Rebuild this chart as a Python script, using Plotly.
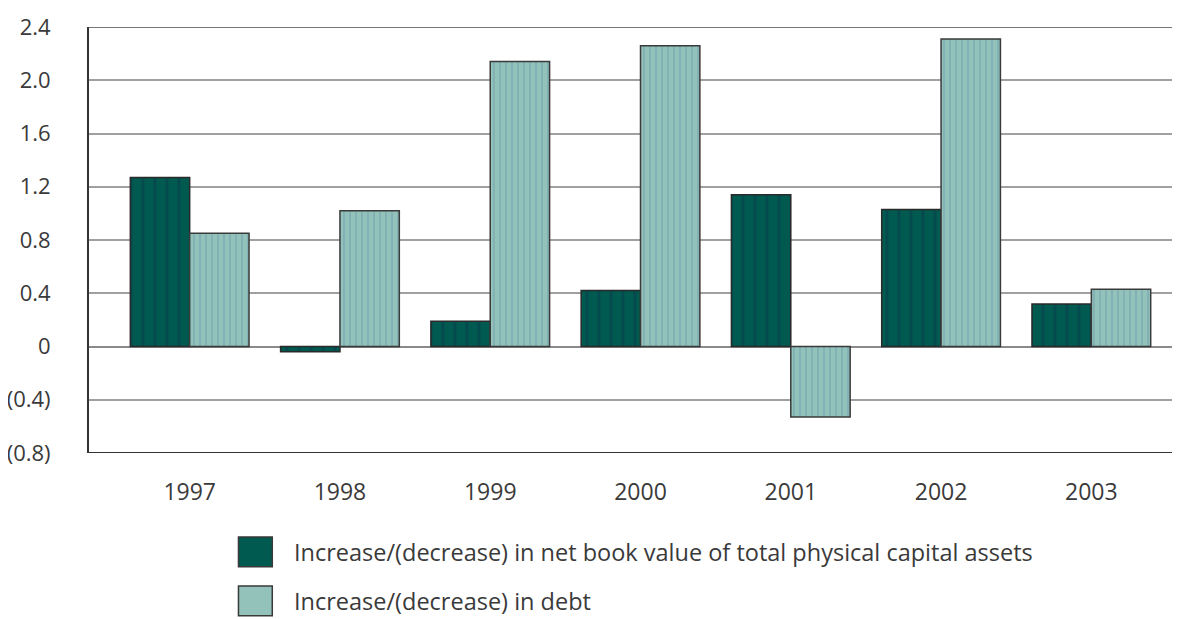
import plotly.graph_objects as go

years = ["1997", "1998", "1999", "2000", "2001", "2002", "2003"]
assets = [1.27, -0.04, 0.19, 0.42, 1.14, 1.03, 0.32]
debt = [0.85, 1.02, 2.14, 2.26, -0.53, 2.31, 0.43]
names = ["Increase/(decrease) in net book value of total physical capital assets",
         "Increase/(decrease) in debt"]
tick_vals = [2.4, 2.0, 1.6, 1.2, 0.8, 0.4, 0, -0.4, -0.8]
tick_text = ["2.4", "2.0", "1.6", "1.2", "0.8", "0.4", "0", "(0.4)", "(0.8)"]

dark = "#005a4f"
light = "#93c2bb"
font = "'Open Sans', Lato, sans-serif"
txt = "#3a3a3a"

fig = go.Figure()
fig.add_bar(x=years, y=assets, name=names[0],
            marker=dict(color=dark, line=dict(color="#2a2a2a", width=1.5),
                        pattern=dict(shape="|", fgcolor="#083a4e", size=12, solidity=0.25)))
fig.add_bar(x=years, y=debt, name=names[1],
            marker=dict(color=light, line=dict(color="#3a3a3a", width=1.5),
                        pattern=dict(shape="|", fgcolor="#6d9ea8", size=6, solidity=0.3)))

fig.update_layout(
    width=1172, height=611,
    margin=dict(l=81, r=0, t=19, b=166),
    paper_bgcolor="white", plot_bgcolor="white",
    barmode="group", bargap=0.21, bargroupgap=0,
    showlegend=False,
    font=dict(family=font, size=20, color=txt),
)
fig.update_xaxes(range=[-0.67, 6.59], showgrid=False, showline=False, zeroline=False,
                 ticks="outside", ticklen=18, tickcolor="rgba(0,0,0,0)",
                 tickfont=dict(size=23, color=txt))
fig.update_yaxes(range=[-0.8, 2.4], tickvals=tick_vals, ticktext=tick_text,
                 showgrid=True, gridcolor="#a0a0a0", gridwidth=2,
                 zeroline=True, zerolinecolor="#8a8a8a", zerolinewidth=2,
                 showline=True, linecolor="#333333", linewidth=2,
                 ticks="outside", ticklen=32, tickcolor="rgba(0,0,0,0)",
                 tickfont=dict(size=22, color=txt))

# bottom axis line and top border line
fig.add_shape(type="line", xref="paper", yref="y", x0=0, x1=1, y0=-0.8, y1=-0.8,
              line=dict(color="#333333", width=2))
fig.add_shape(type="line", xref="paper", yref="y", x0=0, x1=1, y0=2.4, y1=2.4,
              line=dict(color="#777777", width=2))

# custom legend
for i, (nm, col) in enumerate(zip(names, [dark, light])):
    yc = -0.232 - i * 0.115
    fig.add_shape(type="rect", xref="paper", yref="paper",
                  x0=0.137, x1=0.168, y0=yc - 0.035, y1=yc + 0.035,
                  fillcolor=col, line=dict(color="#3a3a3a", width=1.5))
    fig.add_annotation(xref="paper", yref="paper", x=0.186, y=yc, text=nm,
                       showarrow=False, xanchor="left", yanchor="middle",
                       font=dict(size=23.5, color=txt, family=font))

fig.write_html("out.html")
